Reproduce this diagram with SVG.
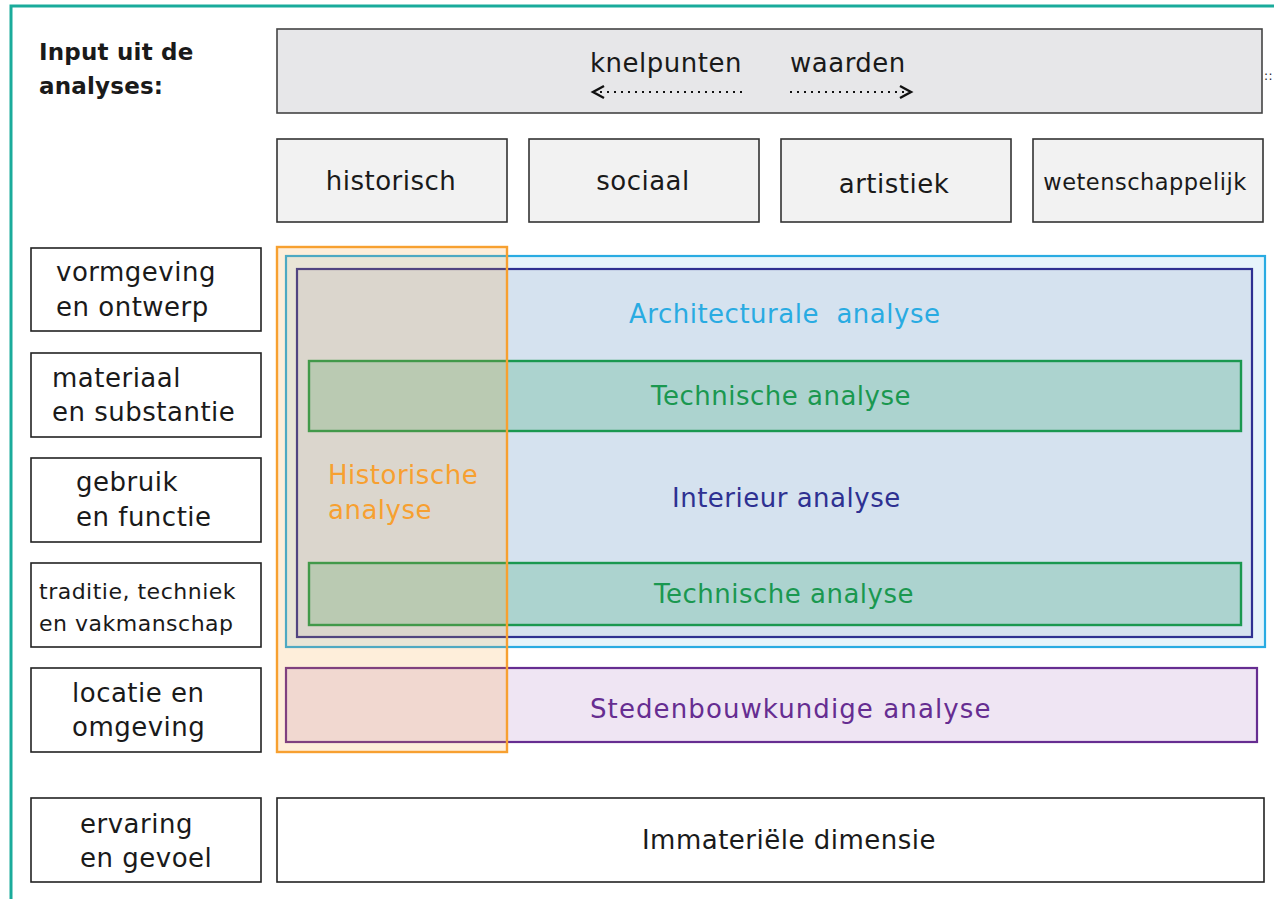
<svg xmlns="http://www.w3.org/2000/svg" width="1274" height="899" viewBox="0 0 1274 899">
<style>
text{font-family:"DejaVu Sans","Liberation Sans",sans-serif;font-size:26px;letter-spacing:0.5px;fill:#1a1a1a}
.box{fill:#fff;stroke:#222;stroke-width:1.6}
.hdr{fill:#f2f2f2;stroke:#333;stroke-width:1.6}
.mid{text-anchor:middle}
.sm{font-size:22px}
.dot{fill:none;stroke:#111;stroke-width:2.2;stroke-dasharray:2 5}
.ah{fill:none;stroke:#111;stroke-width:2.4}
</style>
<rect width="1274" height="899" fill="#fff"/>
<path d="M11 899 V6 H1274" fill="none" stroke="#1aab9b" stroke-width="3"/>
<g id="title"><text x="39" y="60" style="font-weight:700;font-size:23px;letter-spacing:0.2px">Input uit de</text><text x="39" y="94" style="font-weight:700;font-size:23px;letter-spacing:0.2px">analyses:</text></g>
<g id="top"><rect x="277" y="29" width="985" height="84" fill="#e7e7e9" stroke="#444" stroke-width="1.6"/>
<text x="590" y="72">knelpunten</text><text x="790" y="72">waarden</text>
<text x="1264" y="80" style="font-size:12px">::</text></g>
<g id="connectors">
<line class="dot" x1="600" y1="92" x2="745" y2="92"/><path class="ah" d="M604 86 L593 92 L604 98"/>
<line class="dot" x1="790" y1="92" x2="904" y2="92"/><path class="ah" d="M900 86 L911 92 L900 98"/>
</g>
<g id="historisch"><rect class="hdr" x="277" y="139" width="230" height="83"/><text class="mid" x="391" y="190">historisch</text></g>
<g id="sociaal"><rect class="hdr" x="529" y="139" width="230" height="83"/><text class="mid" x="643" y="190">sociaal</text></g>
<g id="artistiek"><rect class="hdr" x="781" y="139" width="230" height="83"/><text class="mid" x="894" y="193">artistiek</text></g>
<g id="wetenschappelijk"><rect class="hdr" x="1033" y="139" width="230" height="83"/><text class="mid" x="1145" y="190" style="font-size:22.5px">wetenschappelijk</text></g>
<g id="vormgeving"><rect class="box" x="31" y="248" width="230" height="83"/><text x="56" y="281">vormgeving</text><text x="56" y="316">en ontwerp</text></g>
<g id="materiaal"><rect class="box" x="31" y="353" width="230" height="84"/><text x="52" y="387">materiaal</text><text x="52" y="421">en substantie</text></g>
<g id="gebruik"><rect class="box" x="31" y="458" width="230" height="84"/><text x="76" y="491">gebruik</text><text x="76" y="526">en functie</text></g>
<g id="traditie"><rect class="box" x="31" y="563" width="230" height="84"/><text class="sm" x="39" y="599">traditie, techniek</text><text class="sm" x="39" y="631">en vakmanschap</text></g>
<g id="locatie"><rect class="box" x="31" y="668" width="230" height="84"/><text x="72" y="702">locatie en</text><text x="72" y="736">omgeving</text></g>
<g id="ervaring"><rect class="box" x="31" y="798" width="230" height="84"/><text x="80" y="833">ervaring</text><text x="80" y="867">en gevoel</text></g>
<g id="immaterieel"><rect class="box" x="277" y="798" width="987" height="84"/><text class="mid" x="789" y="849">Immateriële dimensie</text></g>
<g id="architecturaal"><rect x="286" y="256" width="979" height="391" fill="#e6f4fb" stroke="#29abe2" stroke-width="2.2"/></g>
<g id="interieur"><rect x="297" y="269" width="955" height="368" fill="#d5e2ef" stroke="#2e3192" stroke-width="2.2"/><text x="672" y="507" style="fill:#2e3192">Interieur analyse</text></g>
<g id="architecturaal-label"><text x="629" y="323" style="fill:#29abe2">Architecturale&#160; analyse</text></g>
<g id="technisch1"><rect x="309" y="361" width="932" height="70" fill="#acd3cf" stroke="#1a9850" stroke-width="2.4"/><text class="mid" x="781" y="405" style="fill:#1a9850">Technische analyse</text></g>
<g id="technisch2"><rect x="309" y="563" width="932" height="62" fill="#acd3cf" stroke="#1a9850" stroke-width="2.4"/><text class="mid" x="784" y="603" style="fill:#1a9850">Technische analyse</text></g>
<g id="stedenbouw"><rect x="286" y="668" width="971" height="74" fill="#efe5f3" stroke="#662d91" stroke-width="2.2"/><text x="590" y="718" style="fill:#662d91;letter-spacing:1.1px">Stedenbouwkundige analyse</text></g>
<g id="historische"><rect x="277" y="247" width="230" height="505" fill="#f7a030" fill-opacity="0.18" stroke="#f7a030" stroke-width="2.4"/><text x="328" y="484" style="fill:#f7a030">Historische</text><text x="328" y="519" style="fill:#f7a030">analyse</text></g>
</svg>
